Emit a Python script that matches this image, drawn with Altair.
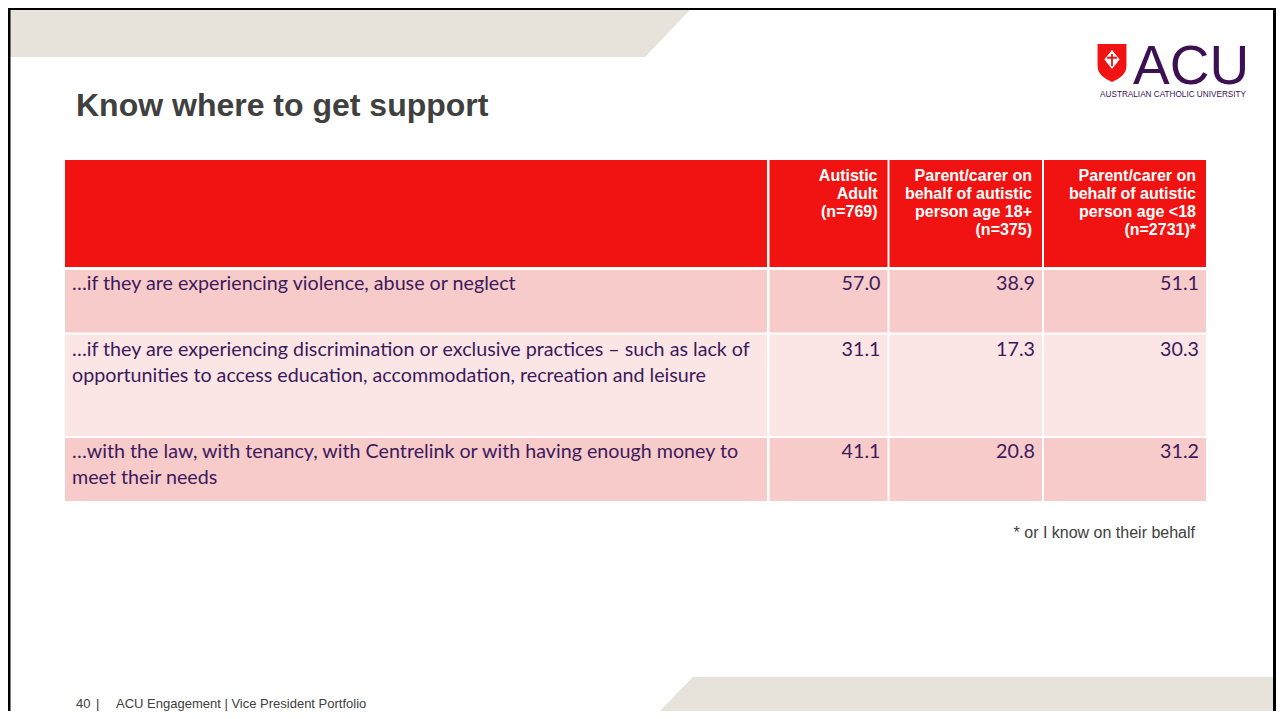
import altair as alt
import pandas as pd

# ---------------- content ----------------
title_text = "Know where to get support"
col_headers = [
    "Autistic\nAdult\n(n=769)",
    "Parent/carer on\nbehalf of autistic\nperson age 18+\n(n=375)",
    "Parent/carer on\nbehalf of autistic\nperson age <18\n(n=2731)*",
]
row_labels = [
    "…if they are experiencing violence, abuse or neglect",
    "…if they are experiencing discrimination or exclusive practices – such as lack of\nopportunities to access education, accommodation, recreation and leisure",
    "…with the law, with tenancy, with Centrelink or with having enough money to\nmeet their needs",
]
autistic_adult = [57.0, 31.1, 41.1]
parent_18_plus = [38.9, 17.3, 20.8]
parent_under_18 = [51.1, 30.3, 31.2]
footnote_text = "* or I know on their behalf"
footer_page = "40"
footer_sep = "|"
footer_text = "ACU Engagement | Vice President Portfolio"
logo_word = "ACU"
logo_sub = "AUSTRALIAN CATHOLIC UNIVERSITY"

# ---------------- layout / style ----------------
W, H = 1268, 703
X0, Y0 = 8, 8
xs = alt.Scale(domain=[X0, X0 + W], zero=False, nice=False)
ys = alt.Scale(domain=[Y0, Y0 + H], zero=False, nice=False, reverse=True)

RED = "#F11311"
PINK = "#F8CBCB"
PALE = "#FBE5E5"
BEIGE = "#E7E2DA"
PURPLE = "#3C1A5B"
LOGO_PURPLE = "#3C1053"
GREY = "#404040"
BODY_FONT = "Lato"
ARIAL = "Liberation Sans"

col_edges = [(65, 767), (769.5, 887.5), (889.5, 1042), (1044, 1206)]
header_edge = (160, 267)
row_edges = [(270, 332.5), (334.5, 436), (438, 501)]
row_baselines = [290, 355.5, 457.5]


def X(f):
    return alt.X(f, type="quantitative", scale=xs, axis=None)


def Y(f):
    return alt.Y(f, type="quantitative", scale=ys, axis=None)


layers = []

# background bands
top_band = pd.DataFrame({"x": [8, 645, 690], "y": [10, 10, 10], "y2": [57, 57, 10]})
bot_band = pd.DataFrame({"x": [652, 693, 1276], "y": [719, 677, 677], "y2": [719, 719, 719]})
for d in (top_band, bot_band):
    layers.append(
        alt.Chart(d).mark_area(color=BEIGE, interpolate="linear").encode(
            x=X("x"), y=Y("y"), y2="y2:Q"
        )
    )

# slide frame
frame = pd.DataFrame({
    "x": [8, 8, 1273], "x2": [1276, 10.5, 1276],
    "y": [8, 8, 8], "y2": [10, 719, 719],
})
layers.append(
    alt.Chart(frame).mark_rect(color="#000000").encode(
        x=X("x"), x2="x2:Q", y=Y("y"), y2="y2:Q"
    )
)

# table cells
cells = []
for (cx, cx2) in col_edges:
    cells.append({"x": cx, "x2": cx2, "y": header_edge[0], "y2": header_edge[1], "fill": RED})
for r, (ry, ry2) in enumerate(row_edges):
    for (cx, cx2) in col_edges:
        cells.append({"x": cx, "x2": cx2, "y": ry, "y2": ry2, "fill": PALE if r == 1 else PINK})
cells = pd.DataFrame(cells)
layers.append(
    alt.Chart(cells).mark_rect().encode(
        x=X("x"), x2="x2:Q", y=Y("y"), y2="y2:Q",
        color=alt.Color("fill:N", scale=None),
    )
)

# header text
hdr = pd.DataFrame({
    "x": [e[1] - 10 for e in col_edges[1:]],
    "y": [181] * 3,
    "t": col_headers,
})
layers.append(
    alt.Chart(hdr).mark_text(
        align="right", baseline="alphabetic", font=ARIAL, fontSize=16,
        fontWeight="bold", color="#FFFFFF", lineBreak="\n", lineHeight=18,
    ).encode(x=X("x"), y=Y("y"), text="t:N")
)

# row labels
lab = pd.DataFrame({"x": [72] * 3, "y": row_baselines, "t": row_labels})
layers.append(
    alt.Chart(lab).mark_text(
        align="left", baseline="alphabetic", font=BODY_FONT, fontSize=19.7,
        color=PURPLE, lineBreak="\n", lineHeight=26,
    ).encode(x=X("x"), y=Y("y"), text="t:N")
)

# values
vals = []
for ci, series in enumerate([autistic_adult, parent_18_plus, parent_under_18]):
    for ri, v in enumerate(series):
        vals.append({"x": col_edges[ci + 1][1] - 7, "y": row_baselines[ri], "v": v})
vals = pd.DataFrame(vals)
layers.append(
    alt.Chart(vals).mark_text(
        align="right", baseline="alphabetic", font=BODY_FONT, fontSize=19.7, color=PURPLE,
    ).encode(x=X("x"), y=Y("y"), text=alt.Text("v:Q", format=".1f"))
)

# title
layers.append(
    alt.Chart(pd.DataFrame({"x": [76], "y": [116], "t": [title_text]})).mark_text(
        align="left", baseline="alphabetic", font=ARIAL, fontSize=32,
        fontWeight="bold", color=GREY,
    ).encode(x=X("x"), y=Y("y"), text="t:N")
)

# footnote
layers.append(
    alt.Chart(pd.DataFrame({"x": [1195], "y": [538], "t": [footnote_text]})).mark_text(
        align="right", baseline="alphabetic", font=ARIAL, fontSize=16, color=GREY,
    ).encode(x=X("x"), y=Y("y"), text="t:N")
)

# footer
foot = pd.DataFrame({"x": [76, 96, 116], "y": [708] * 3, "t": [footer_page, footer_sep, footer_text]})
layers.append(
    alt.Chart(foot).mark_text(
        align="left", baseline="alphabetic", font=ARIAL, fontSize=13, color=GREY,
    ).encode(x=X("x"), y=Y("y"), text="t:N")
)

# logo: shield, diamond, cross
shield_path = "M-0.76,-1L0.76,-1L0.76,0.15C0.76,0.6 0.4,0.82 0,1C-0.4,0.82 -0.76,0.6 -0.76,0.15Z"
diamond_path = "M0,-1L0.8,0L0,1L-0.8,0Z"
cross_path = ("M-0.13,-0.8L0.13,-0.8L0.13,0.95L-0.13,0.95Z"
              "M-0.7,-0.38L0.7,-0.38L0.7,-0.12L-0.7,-0.12Z")
logo_shapes = [
    (shield_path, 1112, 63, 38, RED),
    (diamond_path, 1112, 59.5, 19, "#FFFFFF"),
    (cross_path, 1112, 59.5, 14, RED),
]
for path, cx, cy, sz, col in logo_shapes:
    layers.append(
        alt.Chart(pd.DataFrame({"x": [cx], "y": [cy]})).mark_point(
            shape=path, filled=True, fill=col, size=sz * sz, opacity=1, strokeWidth=0,
        ).encode(x=X("x"), y=Y("y"))
    )

layers.append(
    alt.Chart(pd.DataFrame({"x": [1133], "y": [84], "t": [logo_word]})).mark_text(
        align="left", baseline="alphabetic", font=ARIAL, fontSize=55, color=LOGO_PURPLE,
    ).encode(x=X("x"), y=Y("y"), text="t:N")
)
layers.append(
    alt.Chart(pd.DataFrame({"x": [1246], "y": [97], "t": [logo_sub]})).mark_text(
        align="right", baseline="alphabetic", font=ARIAL, fontSize=8.2, color=LOGO_PURPLE,
    ).encode(x=X("x"), y=Y("y"), text="t:N")
)

chart = alt.layer(*layers).properties(
    width=W, height=H, autosize=alt.AutoSizeParams(type="none"), padding=0,
    background="#FFFFFF",
).configure_view(stroke=None)

chart.save("out.html", embed_options={"renderer": "svg", "actions": False})
